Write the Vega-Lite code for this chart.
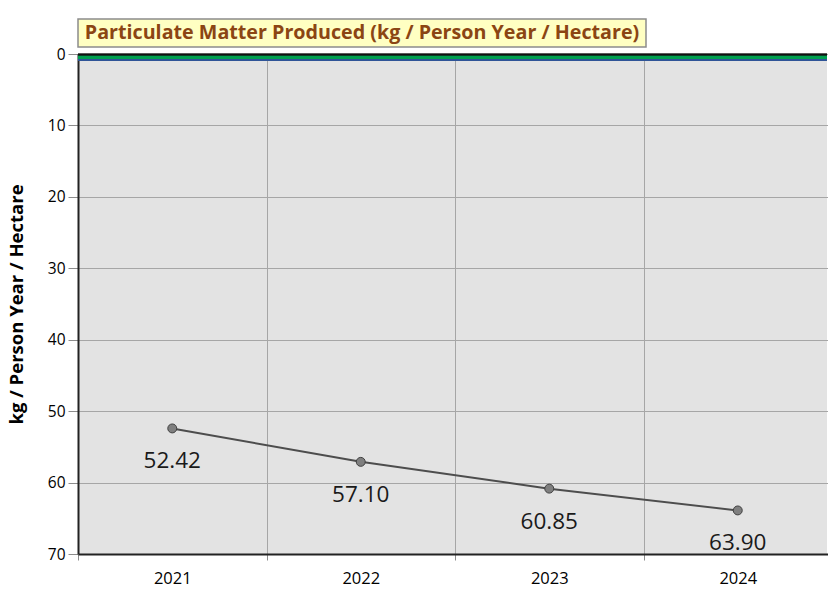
{
  "$schema": "https://vega.github.io/schema/vega-lite/v6.json",
  "padding": {"left": 7, "top": 18, "right": 0, "bottom": 0},
  "bounds": "flush",
  "spacing": 7,
  "config": {"view": {"stroke": null}, "font": "Open Sans"},
  "vconcat": [
    {
      "width": 568,
      "height": 28,
      "view": {"fill": "#FFFFC2", "stroke": "#8c8c8c", "strokeWidth": 1.5},
      "data": {"values": [{"title": "Particulate Matter Produced (kg / Person Year / Hectare)"}]},
      "mark": {"type": "text", "font": "Open Sans", "fontWeight": "bold", "fontSize": 19.7, "color": "#8B4513"},
      "encoding": {"text": {"field": "title"}}
    },
    {
      "width": 749,
      "height": 500,
      "view": {"fill": "#E3E3E3", "stroke": null},
      "data": {"values": [
        {"year": "2021", "value": 52.42},
        {"year": "2022", "value": 57.10},
        {"year": "2023", "value": 60.85},
        {"year": "2024", "value": 63.90}
      ]},
      "encoding": {
        "x": {"field": "year", "type": "ordinal", "scale": {"range": [0, 754], "paddingInner": 0, "paddingOuter": 0},
              "axis": {"title": null, "labelAngle": 0, "tickBand": "extent", "grid": true, "gridColor": "#A6A6A6", "gridWidth": 1,
                       "tickColor": "#8c8c8c", "tickSize": 6, "domainColor": "#222222", "domainWidth": 2,
                       "labelFont": "Open Sans", "labelFontSize": 16.5, "labelColor": "#000000", "labelPadding": 10}},
        "y": {"field": "value", "type": "quantitative", "scale": {"domain": [0, 70], "reverse": true, "nice": false},
              "axis": {"title": "kg / Person Year / Hectare", "values": [0, 10, 20, 30, 40, 50, 60, 70], "grid": true,
                       "gridColor": "#A6A6A6", "gridWidth": 1, "tickColor": "#8c8c8c", "tickSize": 10,
                       "domainColor": "#222222", "domainWidth": 2, "labelFont": "Open Sans", "labelFontSize": 15.5, "labelColor": "#000000",
                       "labelPadding": 3, "titleFont": "Open Sans", "titleFontSize": 18.5, "titleFontWeight": "bold", "titleColor": "#000000", "titlePadding": 21}}
      },
      "layer": [
        {"mark": {"type": "line", "color": "#4D4D4D", "strokeWidth": 2}},
        {"mark": {"type": "point", "filled": true, "fill": "#7F7F7F", "stroke": "#404040", "strokeWidth": 1, "size": 80, "opacity": 1}},
        {"mark": {"type": "text", "dy": 33, "font": "Open Sans", "fontSize": 22.5, "color": "#1a1a1a"}, "encoding": {"text": {"field": "value", "type": "quantitative", "format": ".2f"}}},
        {"mark": {"type": "rule", "color": "#00A050", "strokeWidth": 5, "yOffset": 3}, "encoding": {"y": {"datum": 0, "type": "quantitative"}, "x": null}},
        {"mark": {"type": "rule", "color": "#2F5597", "strokeWidth": 1.5, "yOffset": 6}, "encoding": {"y": {"datum": 0, "type": "quantitative"}, "x": null}},
        {"mark": {"type": "rule", "color": "#111111", "strokeWidth": 1.5, "yOffset": 0.5}, "encoding": {"y": {"datum": 0, "type": "quantitative"}, "x": null}}
      ]
    }
  ]
}
